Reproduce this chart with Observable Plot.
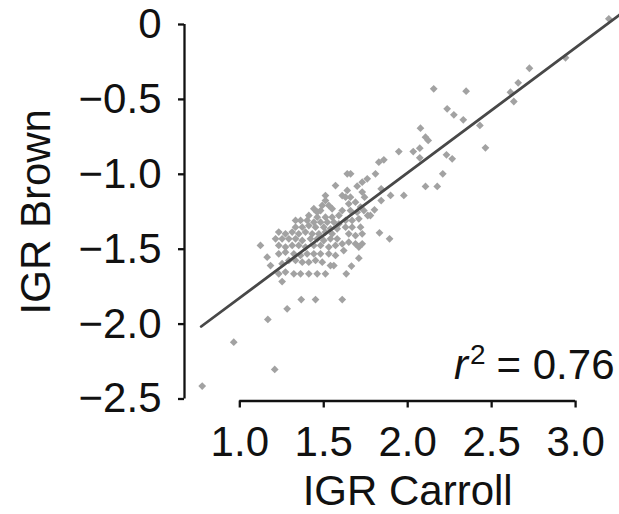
<!DOCTYPE html>
<html>
<head>
<meta charset="utf-8">
<script src="https://cdn.jsdelivr.net/npm/d3@7"></script>
<script src="https://cdn.jsdelivr.net/npm/@observablehq/plot@0.6"></script>
<style>
  html, body { margin: 0; padding: 0; background: #fff; }
  #chart { width: 619px; height: 514px; }
</style>
</head>
<body>
<div id="chart"></div>
<script>
// ---- data ----
const xLabel = "IGR Carroll";
const yLabel = "IGR Brown";
const r2Label = "r2 = 0.76";
const xTicks = [1.0, 1.5, 2.0, 2.5, 3.0];
const yTicks = [0, -0.5, -1.0, -1.5, -2.0, -2.5];
const xDomain = [0.6706, 3.2615];
const yDomain = [-2.5134, 0];

// fitted regression line (slope, intercept) and its x extent
const fitSlope = 0.835;
const fitIntercept = -2.659;
const fitExtent = [0.77, 3.26];

// sparse points outside the dense cluster [IGR Carroll, IGR Brown]
const outerPoints = [
  [0.776,-2.414],[0.964,-2.121],[1.208,-2.303],[1.167,-1.969],[1.282,-1.898],
  [1.366,-1.836],[1.451,-1.836],[1.610,-1.836],[1.252,-1.716],
  [1.832,-1.391],[1.892,-1.431],[1.709,-1.560],[1.665,-1.613],[1.634,-1.664],
  [1.977,-1.141],[1.898,-1.141],[1.842,-1.175],[1.802,-1.237],[1.762,-1.275],
  [2.106,-1.081],[2.176,-1.081],[2.209,-0.997],[2.231,-0.870],[2.265,-0.897],
  [2.463,-0.823],[2.430,-0.674],[2.331,-0.636],[2.275,-0.603],[2.235,-0.563],
  [2.348,-0.445],[2.155,-0.429],[2.076,-0.692],[2.106,-0.752],[2.122,-0.774],
  [2.072,-0.826],[2.033,-0.848],[2.072,-0.890],[1.947,-0.848],[1.828,-0.919],
  [1.858,-0.903],[2.632,-0.514],[2.612,-0.452],[2.658,-0.389],[2.725,-0.292],
  [2.940,-0.222],[3.198,0.038],[1.808,-0.997],[1.759,-1.030],[1.729,-1.053],
  [1.699,-1.079],[1.842,-1.097],[1.640,-0.997],[1.660,-0.997],[1.743,-1.153]
];

// dense cluster, left part
const clusterLeft = [
  [1.570,-1.075],[1.510,-1.142],[1.510,-1.175],[1.491,-1.208],[1.530,-1.208],
  [1.550,-1.230],[1.441,-1.230],[1.461,-1.253],[1.481,-1.242],[1.411,-1.275],
  [1.461,-1.286],[1.510,-1.286],[1.550,-1.286],[1.590,-1.275],
  [1.332,-1.308],[1.362,-1.308],[1.401,-1.308],[1.441,-1.320],[1.481,-1.320],
  [1.521,-1.320],[1.560,-1.320],[1.590,-1.331],
  [1.332,-1.353],[1.372,-1.353],[1.411,-1.342],[1.451,-1.353],[1.500,-1.353],
  [1.540,-1.364],[1.580,-1.364],
  [1.232,-1.386],[1.272,-1.397],[1.312,-1.386],[1.351,-1.397],[1.391,-1.386],
  [1.431,-1.397],[1.471,-1.397],[1.510,-1.386],[1.550,-1.397],
  [1.213,-1.431],[1.252,-1.431],[1.292,-1.431],[1.332,-1.431],[1.372,-1.442],
  [1.421,-1.431],[1.461,-1.431],[1.500,-1.442],[1.540,-1.431],[1.580,-1.431],
  [1.123,-1.475],[1.232,-1.475],[1.272,-1.486],[1.312,-1.475],[1.351,-1.475],
  [1.391,-1.486],[1.441,-1.475],[1.481,-1.475],[1.530,-1.486],[1.570,-1.475],
  [1.163,-1.553],[1.232,-1.531],[1.272,-1.520],[1.322,-1.531],[1.362,-1.542],
  [1.401,-1.531],[1.441,-1.531],[1.481,-1.531],[1.530,-1.531],[1.570,-1.542],
  [1.183,-1.609],[1.252,-1.597],[1.292,-1.575],[1.332,-1.575],[1.372,-1.587],
  [1.411,-1.587],[1.451,-1.575],[1.491,-1.587],[1.540,-1.609],
  [1.232,-1.664],[1.272,-1.653],[1.322,-1.664],[1.362,-1.664],[1.411,-1.664],
  [1.461,-1.664],[1.510,-1.664],[1.560,-1.609]
];

// dense cluster, right part
const clusterRight = [
  [1.640,-1.108],[1.610,-1.142],[1.630,-1.153],[1.659,-1.153],[1.729,-1.119],
  [1.649,-1.197],[1.689,-1.186],[1.719,-1.219],[1.739,-1.242],[1.778,-1.275],
  [1.610,-1.242],[1.659,-1.242],[1.699,-1.253],
  [1.630,-1.308],[1.669,-1.308],[1.709,-1.297],
  [1.630,-1.353],[1.669,-1.353],[1.719,-1.353],
  [1.649,-1.397],[1.689,-1.409],[1.729,-1.397],
  [1.610,-1.464],[1.649,-1.453],[1.689,-1.464],[1.729,-1.464],
  [1.619,-1.509],[1.709,-1.486]
];

const points = [...outerPoints, ...clusterLeft, ...clusterRight];
const fitLine = fitExtent.map(x => ({x, y: fitSlope * x + fitIntercept}));

const FONT = "'Liberation Sans', Arial, Helvetica, sans-serif";
const FS = 42;
const INK = "#111111";

const fmtY = d => d === 0 ? "0" : "\u2212" + Math.abs(d).toFixed(1);
const fmtX = d => d.toFixed(1);

const chart = Plot.plot({
  width: 619,
  height: 514,
  marginLeft: 184,
  marginRight: 0,
  marginTop: 24,
  marginBottom: 113.5,
  style: {fontFamily: FONT, background: "#fff", color: INK, overflow: "visible"},
  x: {domain: xDomain, axis: null},
  y: {domain: yDomain, axis: null},
  marks: [
    Plot.dot(points, {x: d => d[0], y: d => d[1], symbol: "diamond2", r: 3.5, fill: "#a2a2a2", stroke: "none"}),
    Plot.line(fitLine, {x: "x", y: "y", stroke: "#484848", strokeWidth: 2.8}),
    // y axis line and ticks
    Plot.ruleX([xDomain[0]], {y1: yTicks[0], y2: yTicks[yTicks.length - 1], stroke: INK, strokeWidth: 2.3}),
    Plot.axisY({ticks: yTicks, tickFormat: fmtY, tickSize: 6, tickPadding: 17, fontSize: FS, stroke: INK, strokeWidth: 2.3, label: null}),
    // x axis line and ticks
    Plot.ruleY([yDomain[0]], {x1: xTicks[0], x2: xTicks[xTicks.length - 1], stroke: INK, strokeWidth: 2.3}),
    Plot.axisX({ticks: xTicks, tickFormat: fmtX, tickSize: 7, tickPadding: 18, fontSize: FS, stroke: INK, strokeWidth: 2.3, label: null}),
    // axis titles
    Plot.text([xLabel], {x: 2.0, frameAnchor: "bottom", lineAnchor: "bottom", textAnchor: "middle", dy: 104, text: d => d, fontSize: FS, fill: INK}),
    Plot.text([yLabel], {y: -1.25, frameAnchor: "left", lineAnchor: "middle", textAnchor: "middle", dx: -148, rotate: -90, text: d => d, fontSize: FS, fill: INK}),
    // r^2 annotation
    Plot.text([r2Label], {frameAnchor: "bottom-right", dx: -5, dy: -22, lineAnchor: "bottom", textAnchor: "end", text: d => d, fontSize: FS, fill: INK})
  ]
});

document.getElementById("chart").appendChild(chart);

// typeset r² with italic r and a superscript 2
d3.select(chart).selectAll("text").each(function() {
  if (this.textContent === r2Label) {
    const t = d3.select(this);
    t.text(null);
    t.append("tspan").attr("font-style", "italic").text("r");
    t.append("tspan").attr("font-size", 28).attr("dy", -15).attr("dx", 2).text("2");
    t.append("tspan").attr("dy", 15).attr("dx", 11).text("= 0.76");
  }
});
</script>
</body>
</html>
